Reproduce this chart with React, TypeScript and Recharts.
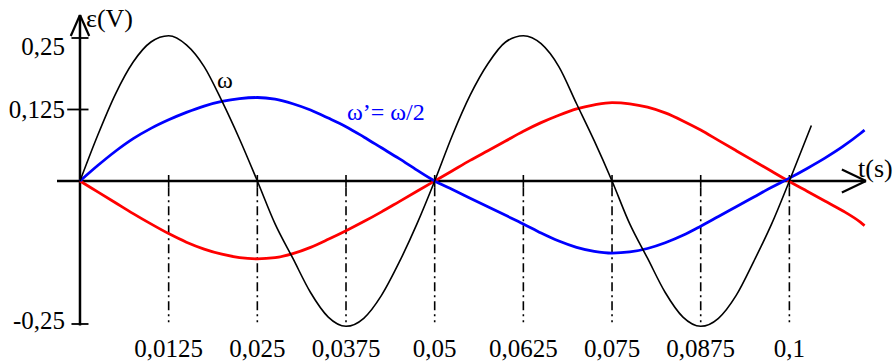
import { LineChart, Line, XAxis, YAxis, ReferenceLine } from 'recharts'

// time grid (s)
const tGrid = [
  0, 0.0025, 0.005, 0.0075, 0.01, 0.0125, 0.015, 0.0175, 0.02, 0.0225,
  0.025, 0.0275, 0.03, 0.0325, 0.035, 0.0375, 0.04, 0.0425, 0.045, 0.0475,
  0.05, 0.0525, 0.055, 0.0575, 0.06, 0.0625, 0.065, 0.0675, 0.07, 0.0725,
  0.075, 0.0775, 0.08, 0.0825, 0.085, 0.0875, 0.09, 0.0925, 0.095, 0.0975,
  0.1,
]

// emf at pulsation ω (black)
const omegaValues = [
  0, 0.08, 0.152, 0.208, 0.243, 0.254, 0.238, 0.2, 0.14, 0.073,
  0, -0.075, -0.135, -0.195, -0.238, -0.254, -0.24, -0.2, -0.142, -0.075,
  0, 0.08, 0.15, 0.205, 0.243, 0.254, 0.24, 0.2, 0.135, 0.07,
  0, -0.075, -0.135, -0.195, -0.238, -0.254, -0.24, -0.2, -0.14, -0.075,
  0,
]
const omegaTailT = [0.1031]
const omegaTail = [0.097]

// emf at ω' = ω/2 (blue)
const halfOmegaValues = [
  0, 0.027, 0.052, 0.074, 0.092, 0.107, 0.12, 0.131, 0.139, 0.144,
  0.146, 0.143, 0.135, 0.124, 0.11, 0.095, 0.077, 0.058, 0.039, 0.019,
  0, -0.015, -0.03, -0.045, -0.06, -0.075, -0.091, -0.105, -0.116, -0.123,
  -0.126, -0.124, -0.118, -0.108, -0.095, -0.079, -0.062, -0.045, -0.028, -0.011,
  0.005,
]

// red curve
const redValues = [
  0, -0.019, -0.038, -0.057, -0.075, -0.092, -0.107, -0.119, -0.128, -0.134,
  -0.136, -0.134, -0.127, -0.116, -0.102, -0.087, -0.071, -0.054, -0.036, -0.018,
  0, 0.018, 0.036, 0.053, 0.07, 0.087, 0.102, 0.115, 0.126, 0.133,
  0.137, 0.135, 0.129, 0.119, 0.105, 0.089, 0.071, 0.053, 0.035, 0.017,
  -0.001,
]

const tailT = [0.1025, 0.105, 0.1075, 0.11, 0.1106]
const halfOmegaTail = [0.022, 0.04, 0.06, 0.083, 0.089]
const redTail = [-0.018, -0.035, -0.052, -0.072, -0.078]

const xTicks = [0.0125, 0.025, 0.0375, 0.05, 0.0625, 0.075, 0.0875, 0.1]
const yTicks = [-0.25, 0.125, 0.25]

const X_DOMAIN = [-0.00324, 0.1108]
const Y_DOMAIN = [-0.2605, 0.2902]

const FONT = 'Liberation Serif, Times New Roman, serif'

const toSeries = (ts: number[], vs: number[]) => ts.map((t, i) => ({ t, v: vs[i] }))

const blackData = [...toSeries(tGrid, omegaValues), ...toSeries(omegaTailT, omegaTail)]
const blueData = [...toSeries(tGrid, halfOmegaValues), ...toSeries(tailT, halfOmegaTail)]
const redData = [...toSeries(tGrid, redValues), ...toSeries(tailT, redTail)]

const fmt = (v: number) => String(v).replace('.', ',')

const XTick = ({ x, y, payload }: any) => (
  <text x={x} y={y + 27} textAnchor='middle' style={{ fontFamily: FONT }} fontSize={25} fill='#000'>
    {fmt(payload.value)}
  </text>
)

// the top label sits under the arrow head
const yLabelShift = (v: number) => (v === 0.25 ? 17 : v === 0.125 ? 9 : 5)

const YTick = ({ x, y, payload }: any) => (
  <text
    x={x + 8}
    y={y + yLabelShift(payload.value)}
    textAnchor='end'
    style={{ fontFamily: FONT }}
    fontSize={25}
    fill='#000'
  >
    {fmt(payload.value)}
  </text>
)

export default function App() {
  return (
    <div style={{ position: 'absolute', left: 0, top: 0, width: 894, height: 362, background: '#fff' }}>
      <LineChart width={894} height={362} margin={{ top: 15, right: 28, left: 0, bottom: 2 }}>
        <XAxis
          type='number'
          dataKey='t'
          domain={X_DOMAIN}
          allowDataOverflow
          ticks={xTicks}
          interval={0}
          axisLine={false}
          tickLine={false}
          tickSize={0}
          tickMargin={0}
          height={30}
          tick={<XTick />}
        />
        <YAxis
          type='number'
          domain={Y_DOMAIN}
          allowDataOverflow
          ticks={yTicks}
          interval={0}
          axisLine={false}
          tickLine={false}
          tickSize={0}
          tickMargin={0}
          width={57}
          tick={<YTick />}
        />

        {/* dash-dot guides below the time axis */}
        {xTicks.map((xt) => (
          <ReferenceLine
            key={'g' + xt}
            segment={[{ x: xt, y: -0.011 }, { x: xt, y: -0.247 }]}
            stroke='#000'
            strokeWidth={1.6}
            strokeDasharray='9 4 2 4'
          />
        ))}
        {xTicks.map((xt) => (
          <ReferenceLine
            key={'k' + xt}
            segment={[{ x: xt, y: 0.0105 }, { x: xt, y: -0.011 }]}
            stroke='#000'
            strokeWidth={1.6}
          />
        ))}
        {yTicks.map((yt) => (
          <ReferenceLine
            key={'y' + yt}
            segment={[{ x: yt === 0.125 ? -0.0018 : -0.0012, y: yt }, { x: 0.0012, y: yt }]}
            stroke='#000'
            strokeWidth={1.8}
          />
        ))}

        {/* axes with arrows */}
        <ReferenceLine y={0} stroke='#000' strokeWidth={2.5} />
        <ReferenceLine segment={[{ x: 0, y: -0.2525 }, { x: 0, y: 0.2902 }]} stroke='#000' strokeWidth={2.5} />
        <ReferenceLine segment={[{ x: -0.0013, y: 0.2535 }, { x: 0, y: 0.2902 }]} stroke='#000' strokeWidth={2.2} />
        <ReferenceLine segment={[{ x: 0.0013, y: 0.2535 }, { x: 0, y: 0.2902 }]} stroke='#000' strokeWidth={2.2} />
        <ReferenceLine segment={[{ x: 0.1074, y: 0.0201 }, { x: 0.1108, y: 0 }]} stroke='#000' strokeWidth={2.2} />
        <ReferenceLine segment={[{ x: 0.1074, y: -0.0201 }, { x: 0.1108, y: 0 }]} stroke='#000' strokeWidth={2.2} />

        <Line data={redData} dataKey='v' type='monotone' stroke='#ff0000' strokeWidth={2.8} dot={false} isAnimationActive={false} />
        <Line data={blueData} dataKey='v' type='monotone' stroke='#0000ff' strokeWidth={2.8} dot={false} isAnimationActive={false} />
        <Line data={blackData} dataKey='v' type='monotone' stroke='#000' strokeWidth={1.6} dot={false} isAnimationActive={false} />
      </LineChart>

      <svg width={894} height={362} style={{ position: 'absolute', left: 0, top: 0, pointerEvents: 'none', fontFamily: FONT }}>
        <text x={86} y={27} fontSize={26} fill='#000'>ε(V)</text>
        <text x={858} y={177} fontSize={26} fill='#000'>t(s)</text>
        <text x={217} y={88} fontSize={24} fill='#000'>ω</text>
        <text x={347} y={120} fontSize={24} fill='#0000ff'>ω’= ω/2</text>
      </svg>
    </div>
  )
}
